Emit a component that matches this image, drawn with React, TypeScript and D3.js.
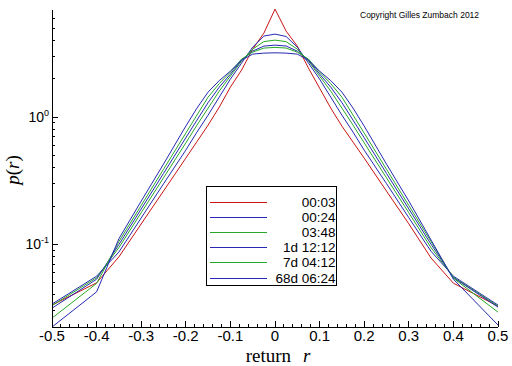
import * as d3 from "d3";

// return r (bin centres) and p(r) for each aggregation time step
const returns = [
  -0.5, -0.4, -0.35, -0.3, -0.25, -0.2, -0.175, -0.15, -0.125, -0.1, -0.075, -0.05, -0.025, 0,
  0.025, 0.05, 0.075, 0.1, 0.125, 0.15, 0.175, 0.2, 0.25, 0.3, 0.35, 0.4, 0.5,
];
const p0003 = [
  0.0333, 0.0498, 0.0797, 0.1447, 0.2624, 0.476, 0.642, 0.865, 1.198, 1.721, 2.342, 3.423, 4.57, 7.06,
  4.74, 3.616, 2.43, 1.69, 1.177, 0.85, 0.636, 0.476, 0.262, 0.145, 0.078, 0.0495, 0.0327,
];
const p0024 = [
  0.0339, 0.0562, 0.087, 0.1612, 0.299, 0.5503, 0.7622, 1.037, 1.436, 1.99, 2.658, 3.55, 4.334, 4.493,
  4.3, 3.55, 2.66, 1.99, 1.436, 1.037, 0.762, 0.55, 0.3, 0.162, 0.088, 0.0562, 0.0333,
];
const p0348 = [
  0.033, 0.0547, 0.0942, 0.1772, 0.3333, 0.6268, 0.865, 1.177, 1.601, 2.101, 2.756, 3.423, 3.923, 4.03,
  3.92, 3.42, 2.76, 2.1, 1.601, 1.177, 0.865, 0.627, 0.333, 0.177, 0.094, 0.0552, 0.0327,
];
const p1d = [
  0.0315, 0.0532, 0.0996, 0.1898, 0.3609, 0.6877, 0.9471, 1.3, 1.721, 2.178, 2.806, 3.303, 3.616, 3.681,
  3.62, 3.3, 2.81, 2.18, 1.721, 1.3, 0.947, 0.688, 0.361, 0.19, 0.1, 0.0547, 0.0321,
];
const p7d = [
  0.0263, 0.0493, 0.1052, 0.2021, 0.3888, 0.7486, 1.037, 1.436, 1.834, 2.258, 2.858, 3.243, 3.487, 3.532,
  3.49, 3.24, 2.86, 2.26, 1.834, 1.436, 1.037, 0.749, 0.389, 0.202, 0.105, 0.0542, 0.0293,
];
const p68d = [
  0.0224, 0.0423, 0.1107, 0.2186, 0.427, 0.8496, 1.177, 1.573, 1.936, 2.299, 2.806, 3.128, 3.185, 3.203,
  3.185, 3.128, 2.806, 2.299, 1.936, 1.573, 1.177, 0.85, 0.427, 0.219, 0.108, 0.0532, 0.0232,
];

const seriesNames = ["00:03", "00:24", "03:48", "1d 12:12", "7d 04:12", "68d 06:24"];
const seriesValues = [p0003, p0024, p0348, p1d, p7d, p68d];
const seriesColors = ["#c81414", "#2828b4", "#28a828", "#2828b4", "#28a828", "#2828b4"];

const xTickLabels = ["-0.5", "-0.4", "-0.3", "-0.2", "-0.1", "0", "0.1", "0.2", "0.3", "0.4", "0.5"];
const yTickExponents = ["0", "-1"];

const sans = "'Liberation Sans', Arial, sans-serif";
const serif = "'Liberation Serif', 'Times New Roman', serif";

export default function App() {
  const w = 512,
    h = 366;
  const x = d3.scaleLinear().domain([-0.5, 0.5]).range([52, 498]);
  const y = d3.scaleLog().domain([0.0224, 6.95]).range([327, 10]);

  const line = d3
    .line<number>()
    .x((_, i) => x(returns[i]))
    .y((d) => y(d));

  const minorX = d3.range(-50, 51, 2).map((v) => v / 100);
  const majorX = xTickLabels.map((t) => +t);
  const logTicks = y.ticks().filter((v) => v >= y.domain()[0] && v <= y.domain()[1]);
  const majorY = yTickExponents.map((e) => Math.pow(10, +e));

  const legX = 206.5,
    legY = 186.5,
    legW = 130,
    legH = 99,
    rowH = 15.2;

  return (
    <svg
      width={w}
      height={h}
      style={{ position: "absolute", left: 0, top: 0, background: "#fff" }}
    >
      <g fill="none" strokeWidth={1}>
        {seriesValues.map((vals, i) => (
          <path key={seriesNames[i]} d={line(vals) || ""} stroke={seriesColors[i]} />
        ))}
      </g>

      {/* axes */}
      <g stroke="#000" strokeWidth={1} shapeRendering="crispEdges">
        <line x1={52} x2={52} y1={10} y2={327.5} />
        <line x1={52} x2={498} y1={327.5} y2={327.5} />
        {minorX.map((v) => (
          <line key={"mx" + v} x1={x(v)} x2={x(v)} y1={327} y2={324} />
        ))}
        {majorX.map((v) => (
          <line key={"Mx" + v} x1={x(v)} x2={x(v)} y1={327} y2={321} />
        ))}
        {logTicks.map((v) => (
          <line key={"my" + v} x1={52} x2={55} y1={y(v)} y2={y(v)} />
        ))}
        {majorY.map((v) => (
          <line key={"My" + v} x1={52} x2={58} y1={y(v)} y2={y(v)} />
        ))}
      </g>

      <g fontFamily={sans} fontSize={15} textAnchor="middle" fill="#000">
        {xTickLabels.map((t) => (
          <text key={t} x={x(+t)} y={341}>
            {t}
          </text>
        ))}
      </g>
      <g fontFamily={sans} fill="#000" textAnchor="end">
        {yTickExponents.map((e) => (
          <text key={e} x={49} y={y(Math.pow(10, +e)) + 5} fontSize={14}>
            10
            <tspan fontSize={9} dy={-6}>
              {e}
            </tspan>
          </text>
        ))}
      </g>

      <text x={291} y={362} fontFamily={serif} fontSize={19} textAnchor="end">
        return
      </text>
      <text x={303} y={362} fontFamily={serif} fontSize={19} fontStyle="italic">
        r
      </text>
      <text
        transform="translate(19,170) rotate(-90)"
        fontFamily={serif}
        fontSize={19}
        textAnchor="middle"
      >
        <tspan fontStyle="italic">p</tspan>(<tspan fontStyle="italic">r</tspan>)
      </text>

      <text x={360} y={18} fontFamily={sans} fontSize={8.5} fill="#000">
        Copyright Gilles Zumbach 2012
      </text>

      {/* legend */}
      <g shapeRendering="crispEdges">
        <rect x={legX} y={legY} width={legW} height={legH} fill="#fff" stroke="#000" />
        {seriesNames.map((name, i) => (
          <line
            key={name}
            x1={legX + 3}
            x2={legX + 60}
            y1={Math.round(legY + 15 + i * rowH) + 0.5}
            y2={Math.round(legY + 15 + i * rowH) + 0.5}
            stroke={seriesColors[i]}
          />
        ))}
      </g>
      <g fontFamily={sans} fontSize={13.5} textAnchor="end" fill="#000">
        {seriesNames.map((name, i) => (
          <text key={name} x={legX + legW - 1} y={legY + 15 + i * rowH + 5}>
            {name}
          </text>
        ))}
      </g>
    </svg>
  );
}
